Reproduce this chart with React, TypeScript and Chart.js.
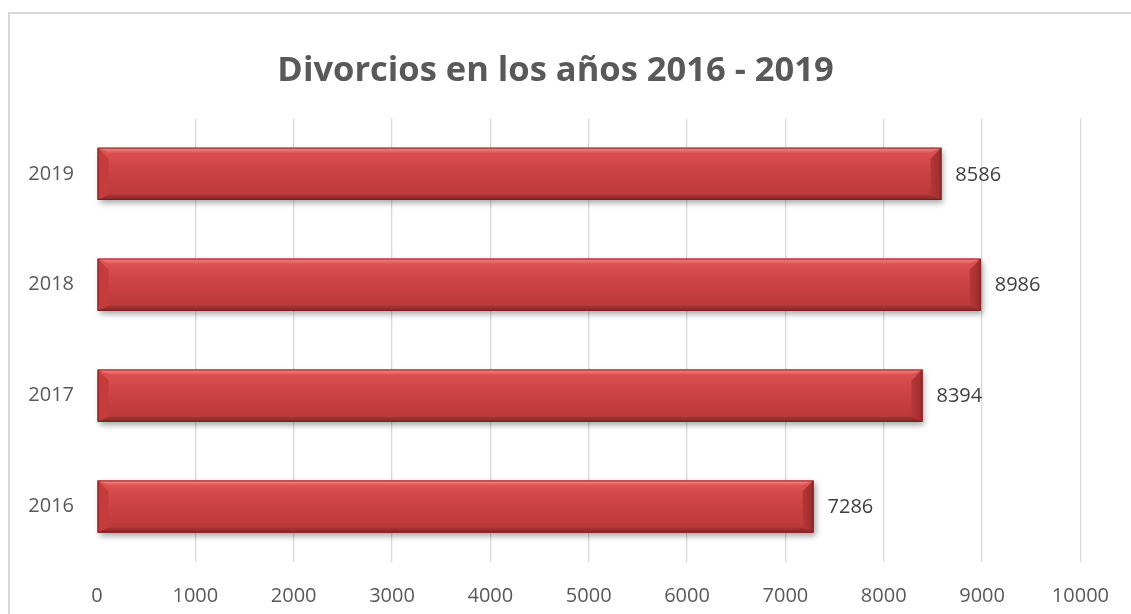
import React, { useEffect, useRef } from "react";
import { Chart, registerables } from "chart.js";

Chart.register(...registerables);

const years = ["2016", "2017", "2018", "2019"];
const divorces = [7286, 8394, 8986, 8586];
const titleText = "Divorcios en los años 2016 - 2019";
const xMin = 0;
const xMax = 10000;
const xStep = 1000;

const FONT = "'Open Sans', 'Noto Sans', sans-serif";

const framePlugin = {
  id: "frame",
  beforeDraw(chart: any) {
    const c = chart.ctx;
    c.save();
    c.fillStyle = "#ffffff";
    c.fillRect(0, 0, chart.width, chart.height);
    c.strokeStyle = "#d9d9d9";
    c.lineWidth = 2;
    c.beginPath();
    c.moveTo(9, chart.height);
    c.lineTo(9, 13);
    c.lineTo(chart.width, 13);
    c.stroke();
    c.restore();
  },
};

function barRect(el: any) {
  const p = el.getProps(["x", "y", "base", "height"], true);
  const left = Math.min(p.x, p.base);
  const right = Math.max(p.x, p.base);
  const top = p.y - p.height / 2;
  const bottom = p.y + p.height / 2;
  return { left, right, top, bottom };
}

function poly(c: any, pts: number[][], fill: any) {
  c.beginPath();
  c.moveTo(pts[0][0], pts[0][1]);
  for (let i = 1; i < pts.length; i++) c.lineTo(pts[i][0], pts[i][1]);
  c.closePath();
  c.fillStyle = fill;
  c.fill();
}

const bevelPlugin = {
  id: "bevel",
  beforeDatasetsDraw(chart: any) {
    const c = chart.ctx;
    const meta = chart.getDatasetMeta(0);
    c.save();
    meta.data.forEach((el: any) => {
      const r = barRect(el);
      c.shadowColor = "rgba(0,0,0,0.35)";
      c.shadowBlur = 6;
      c.shadowOffsetX = 2;
      c.shadowOffsetY = 3;
      c.fillStyle = "#c44040";
      c.fillRect(r.left, r.top, r.right - r.left, r.bottom - r.top);
    });
    c.restore();
  },
  afterDatasetsDraw(chart: any) {
    const c = chart.ctx;
    const meta = chart.getDatasetMeta(0);
    c.save();
    meta.data.forEach((el: any) => {
      const { left, right, top, bottom } = barRect(el);
      const h = bottom - top;
      const bs = 11;
      const bt = 5;
      const bb = 5;
      const g = c.createLinearGradient(0, top, 0, bottom);
      g.addColorStop(0, "#de5252");
      g.addColorStop(0.5, "#cb4242");
      g.addColorStop(1, "#b83838");
      c.fillStyle = g;
      c.fillRect(left, top, right - left, h);
      // left face
      poly(c, [[left, top], [left + bs, top + bt + 6], [left + bs, bottom - bb], [left, bottom]], "rgba(198,60,60,1)");
      // right face
      const gr = c.createLinearGradient(right - bs, 0, right, 0);
      gr.addColorStop(0, "#b63737");
      gr.addColorStop(1, "#9c2c2c");
      poly(c, [[right, top], [right, bottom], [right - bs, bottom - bb], [right - bs, top + bt + 6]], gr);
      // top face
      const gt = c.createLinearGradient(0, top, 0, top + bt);
      gt.addColorStop(0, "#f28888");
      gt.addColorStop(1, "#e05858");
      poly(c, [[left, top], [right, top], [right - bs, top + bt], [left + bs, top + bt]], gt);
      // bottom face
      const gb = c.createLinearGradient(0, bottom - bb, 0, bottom);
      gb.addColorStop(0, "#aa3232");
      gb.addColorStop(1, "#8c2626");
      poly(c, [[left, bottom], [right, bottom], [right - bs, bottom - bb], [left + bs, bottom - bb]], gb);
      // outline
      c.strokeStyle = "rgba(110,25,25,0.7)";
      c.lineWidth = 1;
      c.strokeRect(left + 0.5, top + 0.5, right - left - 1, h - 1);
    });
    c.restore();
  },
  afterDraw(chart: any) {
    const c = chart.ctx;
    const meta = chart.getDatasetMeta(0);
    const ds = chart.data.datasets[0];
    c.save();
    c.font = `20px ${FONT}`;
    c.fillStyle = "#404040";
    c.textAlign = "left";
    c.textBaseline = "middle";
    meta.data.forEach((el: any, i: number) => {
      const r = barRect(el);
      c.fillText(String(ds.data[i]), r.right + 14, (r.top + r.bottom) / 2 + 1);
    });
    c.restore();
  },
};

export default function App() {
  const ref = useRef<HTMLCanvasElement | null>(null);
  useEffect(() => {
    if (!ref.current) return;
    const chart = new Chart(ref.current, {
      type: "bar",
      data: {
        labels: years,
        datasets: [
          {
            label: "Divorcios",
            data: divorces,
            backgroundColor: "#c84242",
            borderWidth: 0,
            categoryPercentage: 1,
            barPercentage: 0.47,
          },
        ],
      },
      options: {
        indexAxis: "y",
        animation: false,
        responsive: false,
        maintainAspectRatio: false,
        layout: { padding: { left: 28, right: 48, top: 0, bottom: 6 } },
        plugins: {
          legend: { display: false },
          tooltip: { enabled: false },
          title: {
            display: true,
            text: titleText,
            color: "#595959",
            font: { family: FONT, size: 34.5, weight: "bold", lineHeight: 1.2 },
            padding: { top: 50, bottom: 27 },
          },
        },
        scales: {
          x: {
            min: xMin,
            max: xMax,
            afterFit: (scale: any) => {
              scale.height = 46;
            },
            ticks: {
              stepSize: xStep,
              color: "#595959",
              font: { family: FONT, size: 20 },
              padding: 22,
              maxRotation: 0,
              callback: (v: any) => String(v),
            },
            grid: {
              color: (ctx: any) => (ctx.index === 0 ? "rgba(0,0,0,0)" : "#d9d9d9"),
              lineWidth: 1.3,
              drawTicks: false,
            },
            border: { display: false },
          },
          y: {
            reverse: true,
            afterFit: (scale: any) => {
              scale.width = 69;
            },
            ticks: {
              color: "#595959",
              font: { family: FONT, size: 20 },
              padding: 23,
            },
            grid: { display: false, drawTicks: false },
            border: { display: false },
          },
        },
      },
      plugins: [framePlugin, bevelPlugin],
    });
    return () => chart.destroy();
  }, []);
  return (
    <div style={{ position: "fixed", left: 0, top: 0, width: 1131, height: 614, background: "#fff" }}>
      <canvas ref={ref} width={1131} height={614} style={{ display: "block" }} />
    </div>
  );
}
